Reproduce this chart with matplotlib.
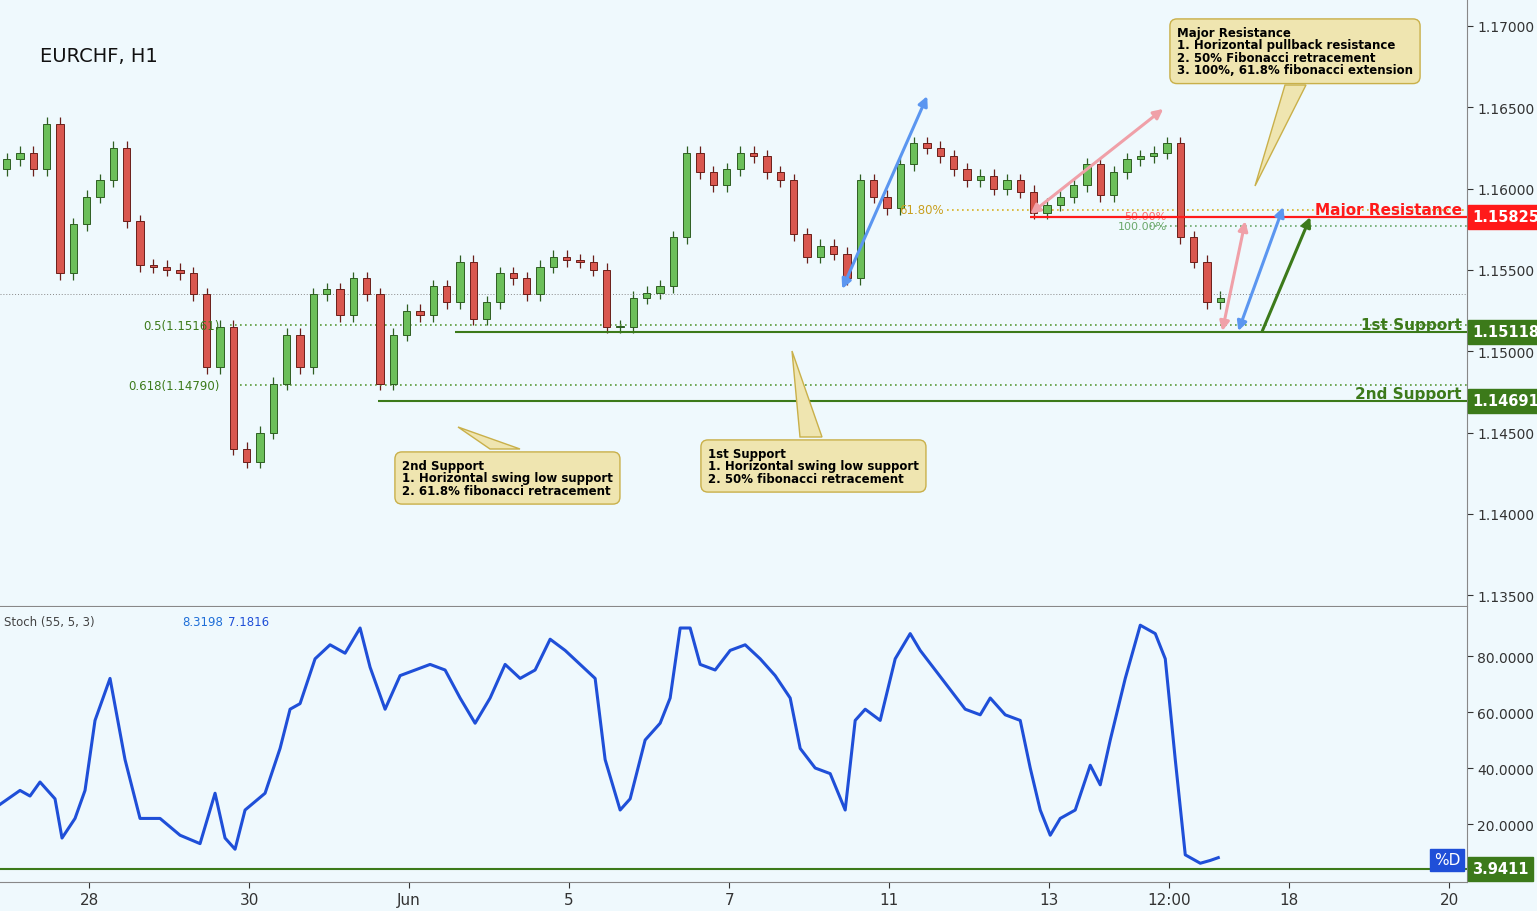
import matplotlib
matplotlib.use("Agg")
import matplotlib.pyplot as plt
from matplotlib.ticker import FormatStrFormatter

W, H = 1537, 912
BG = "#eff9fd"

# 4-hour closes, EURCHF, hours since start of view
closes = [1.1618, 1.1622, 1.1612, 1.1640, 1.1548, 1.1578, 1.1595, 1.1605, 1.1625, 1.1580,
          1.1553, 1.1552, 1.1550, 1.1548, 1.1535, 1.1490, 1.1515, 1.1440, 1.1432, 1.1450,
          1.1480, 1.1510, 1.1490, 1.1535, 1.1538, 1.1522, 1.1545, 1.1535, 1.1480, 1.1510,
          1.1525, 1.1522, 1.1540, 1.1530, 1.1555, 1.1520, 1.1530, 1.1548, 1.1545, 1.1535,
          1.1552, 1.1558, 1.1556, 1.1555, 1.1550, 1.1515, 1.1515, 1.1533, 1.1536, 1.1540,
          1.1570, 1.1622, 1.1610, 1.1602, 1.1612, 1.1622, 1.1620, 1.1610, 1.1605, 1.1572,
          1.1558, 1.1565, 1.1560, 1.1545, 1.1605, 1.1595, 1.1588, 1.1615, 1.1628, 1.1625,
          1.1620, 1.1612, 1.1605, 1.1608, 1.1600, 1.1605, 1.1598, 1.1585, 1.1590, 1.1595,
          1.1602, 1.1615, 1.1596, 1.1610, 1.1618, 1.1620, 1.1622, 1.1628, 1.1570, 1.1555,
          1.1530, 1.1533]
first_open = 1.1612
bar_hours = 4

stoch_hours = [0, 6, 9, 12, 16.5, 18.6, 22.5, 25.5, 28.5, 33, 37.5, 42, 48, 54, 60, 64.5, 67.5,
               70.5, 73.5, 79.5, 84, 87, 90, 94.5, 99, 103.5, 108, 111, 115.5, 120, 124.5, 129,
               133.5, 138, 142.5, 147, 151.5, 156, 160.5, 165, 169.5, 174, 178.5, 181.5, 186,
               189, 193.5, 198, 201, 204, 207, 210, 214.5, 219, 223.5, 228, 232.5, 237, 240,
               244.5, 249, 253.5, 256.5, 259.5, 264, 268.5, 273, 276, 280.5, 285, 289.5, 294,
               297, 301.5, 306, 309, 312, 315, 318, 322.5, 327, 330, 333, 337.5, 342, 346.5,
               349.5, 352.5, 355.5, 360, 363, 365.4]
stoch_d = [27, 32, 30, 35, 29, 15, 22, 32, 57, 72, 43, 22, 22, 16, 13, 31, 15, 11, 25, 31,
           47, 61, 63, 79, 84, 81, 90, 76, 61, 73, 75, 77, 75, 65, 56, 65, 77, 72, 75, 86,
           82, 77, 72, 43, 25, 29, 50, 56, 65, 90, 90, 77, 75, 82, 84, 79, 73, 65, 47, 40,
           38, 25, 57, 61, 57, 79, 88, 82, 75, 68, 61, 59, 65, 59, 57, 40, 25, 16, 22, 25,
           41, 34, 50, 72, 91, 88, 79, 43, 9, 6, 7, 8]

tick_hours = [26.7, 74.7, 122.7, 170.7, 218.7, 266.7, 314.7, 350.7, 386.7, 434.7]
tick_labels = ["28", "30", "Jun", "5", "7", "11", "13", "12:00", "18", "20"]

res_level, sup1_level, sup2_level = 1.15825, 1.15118, 1.14691
fib50, fib618 = 1.15161, 1.14790
ext618, ext100 = 1.15869, 1.15770
last_price = 1.15352
stoch_last = 3.9411

XMAX = 440


def fx(px):
    return px / W


def fy(py):
    return 1 - py / H


fig = plt.figure(figsize=(W / 100, H / 100), dpi=100, facecolor=BG)
ax = fig.add_axes([0, fy(607), fx(1467), fy(0) - fy(607)], facecolor=BG)
ax2 = fig.add_axes([0, fy(883), fx(1467), fy(608) - fy(883)], facecolor=BG)

# candles
opens = [first_open] + closes[:-1]
for i, (o, c) in enumerate(zip(opens, closes)):
    x = i * bar_hours + 2
    up = c >= o
    fc = "#6cbf5a" if up else "#d9574f"
    ec = "#2f5f22" if up else "#6b1f1a"
    lo, hi = min(o, c), max(o, c)
    ax.vlines(x, lo - 0.0004, hi + 0.0004, color=ec, lw=0.9, zorder=2)
    ax.bar(x, max(hi - lo, 0.00005), bottom=lo, width=2.2, color=fc, edgecolor=ec, lw=0.7, zorder=3)

ax.set_xlim(0, XMAX)
ax.set_ylim(1.13433, 1.17166)

# levels
ax.axhline(last_price, color="#888888", lw=0.7, ls=(0, (1, 2)))
ax.hlines(res_level, 309, XMAX, color="#ff1a1a", lw=1.6, zorder=4)
ax.hlines(sup1_level, 136.5, XMAX, color="#3c7a1a", lw=1.5, zorder=4)
ax.hlines(sup2_level, 113.4, XMAX, color="#3c7a1a", lw=1.5, zorder=4)
ax.hlines(fib50, 69, XMAX, color="#5a9a3a", lw=1.2, ls=(0, (1, 2)))
ax.hlines(fib618, 69, XMAX, color="#5a9a3a", lw=1.2, ls=(0, (1, 2)))
ax.hlines(ext618, 284, XMAX, color="#d8b020", lw=1.2, ls=(0, (1, 2)))
ax.hlines(ext100, 345, XMAX, color="#6aa86a", lw=1.2, ls=(0, (1, 2)))
ax.text(66, fib50, "0.5(1.15161)", color="#3c7a1a", fontsize=8.5, ha="right", va="center")
ax.text(66, fib618, "0.618(1.14790)", color="#3c7a1a", fontsize=8.5, ha="right", va="center")
ax.text(283, ext618, "61.80%", color="#c9a020", fontsize=8.5, ha="right", va="center")
ax.text(350, res_level + 0.00005, "50.00%", color="#ff1a1a", fontsize=8, ha="right", va="center", alpha=0.6)
ax.text(350, ext100 - 0.00002, "100.00%", color="#6aa86a", fontsize=8, ha="right", va="center")
ax.text(438.5, res_level + 0.0002, "Major Resistance", color="#ff1a1a", fontsize=11, fontweight="bold", ha="right")
ax.text(438.5, sup1_level + 0.0002, "1st Support", color="#3c7a1a", fontsize=11, fontweight="bold", ha="right")
ax.text(438.5, sup2_level + 0.0002, "2nd Support", color="#3c7a1a", fontsize=11, fontweight="bold", ha="right")

# arrows
def arrow(x0, y0, x1, y1, col, both=True):
    ax.annotate("", xy=(x1, y1), xytext=(x0, y0),
                arrowprops=dict(arrowstyle="<|-|>" if both else "-|>", color=col, lw=2.2,
                                mutation_scale=14, shrinkA=0, shrinkB=0), zorder=6)

arrow(252.6, 1.15383, 278.1, 1.16569, "#5b96f0")
arrow(309, 1.15844, 348.9, 1.16490, "#f0a0a8")
arrow(366.6, 1.15124, 373.5, 1.15800, "#f0a0a8")
arrow(371.4, 1.15124, 384.9, 1.15887, "#5b96f0")
arrow(378.6, 1.15124, 393, 1.15825, "#3c7a1a", both=False)

for a in (ax, ax2):
    a.yaxis.tick_right()
    a.tick_params(axis="y", labelsize=10, colors="#333333", length=4)
    for s in ("top", "left"):
        a.spines[s].set_visible(False)
    a.spines["right"].set_color("#888888")
    a.spines["bottom"].set_color("#888888")
ax.set_yticks([1.135 + 0.005 * k for k in range(8)])
ax.yaxis.set_major_formatter(FormatStrFormatter("%.5f"))
ax.set_xticks([])

# stochastic
ax2.plot(stoch_hours, stoch_d, color="#1f4fd8", lw=2.2)
ax2.axhline(stoch_last, color="#3c7a1a", lw=1.5)
ax2.set_xlim(0, XMAX)
ax2.set_ylim(-0.7, 97.5)
ax2.set_yticks([20, 40, 60, 80])
ax2.yaxis.set_major_formatter(FormatStrFormatter("%.4f"))
ax2.set_xticks(tick_hours)
ax2.set_xticklabels(tick_labels, fontsize=11)
ax2.tick_params(axis="x", length=4, colors="#333333")

# right side value boxes
def tag(py, txt, col, size=10.5):
    fig.text(fx(1472), fy(py), txt, color="white", fontsize=size, fontweight="bold", va="center",
             bbox=dict(boxstyle="square,pad=0.3", fc=col, ec=col))

tag(218, "1.15825", "#ff1a1a")
tag(333, "1.15118", "#3c7a1a")
tag(402, "1.14691", "#3c7a1a")
tag(870, "3.9411", "#3c7a1a")
fig.text(fx(1434), fy(861), "%D", color="white", fontsize=11, va="center",
         bbox=dict(boxstyle="square,pad=0.25", fc="#1f4fd8", ec="#1f4fd8"))

fig.text(fx(40), fy(57), "EURCHF, H1", fontsize=14, va="center", color="#111111")
fig.text(fx(4), fy(623), "Stoch (55, 5, 3)", fontsize=8.5, va="center", color="#444444")
fig.text(fx(182), fy(623), "8.3198", fontsize=8.5, va="center", color="#1f6fd8")
fig.text(fx(228), fy(623), "7.1816", fontsize=8.5, va="center", color="#1f4fd8")

# callouts
def callout(bx, by, tip, txt):
    fig.text(fx(bx), fy(by), txt, fontsize=8.5, fontweight="bold", va="top", linespacing=0.95,
             bbox=dict(boxstyle="round,pad=0.6", fc="#efe5b0", ec="#c9b04a", lw=1))
    fig.patches.append(plt.Polygon([(fx(tip[0]), fy(tip[1])),
                                    (fx(tip[2]), fy(tip[3])),
                                    (fx(tip[4]), fy(tip[5]))],
                                   closed=True, fc="#efe5b0", ec="#c9b04a", lw=1,
                                   transform=fig.transFigure))

callout(1177, 27, (1255, 187, 1285, 86, 1306, 86),
        "Major Resistance\n1. Horizontal pullback resistance\n2. 50% Fibonacci retracement\n3. 100%, 61.8% fibonacci extension")
callout(402, 460, (458, 428, 490, 450, 520, 450),
        "2nd Support\n1. Horizontal swing low support\n2. 61.8% fibonacci retracement")
callout(708, 448, (792, 352, 800, 438, 822, 438),
        "1st Support\n1. Horizontal swing low support\n2. 50% fibonacci retracement")

fig.savefig("out.png", dpi=100, facecolor=BG)
